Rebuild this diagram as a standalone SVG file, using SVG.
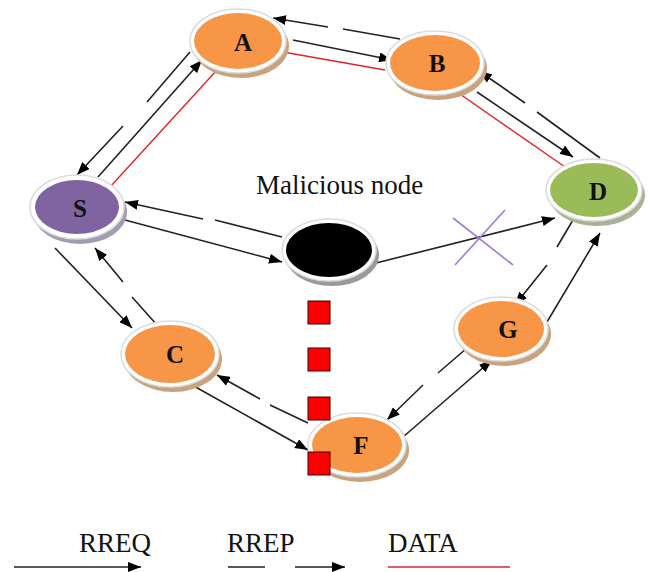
<svg xmlns="http://www.w3.org/2000/svg" width="648" height="572" viewBox="0 0 648 572">
  <style>
    .ring { fill: #ffffff; stroke: #dcdcdc; stroke-width: 1.5; }
    .orange { fill: #F79646; }
    .purple { fill: #8064A2; }
    .green { fill: #9BBB59; }
    .black { fill: #000000; }
    .shadow-o { fill: #C9A27E; }
    .shadow-p { fill: #A59BB0; }
    .shadow-g { fill: #A9B394; }
    .shadow-k { fill: #9a9a9a; }
    .lbl { font-family: "Liberation Serif", "Times New Roman", serif; font-size: 25px; font-weight: bold; fill: #111111; text-anchor: middle; }
    .txt { font-family: "Liberation Serif", "Times New Roman", serif; font-size: 27px; fill: #111111; }
    .rreq, .rrep { fill: none; stroke: #222222; stroke-width: 1.6; marker-end: url(#arr); }
    .data { fill: none; stroke: #E0242A; stroke-width: 1.4; }
    .sq { fill: #FF0000; stroke: #3a0000; stroke-width: 1; }
    .cross { stroke: #A07CD0; stroke-width: 1.6; }
  </style>
  <defs>
    <marker id="arr" viewBox="0 0 13 10" refX="13" refY="5" markerWidth="13" markerHeight="10" markerUnits="userSpaceOnUse" orient="auto">
      <path d="M0,0 L13,5 L0,10 z" fill="#000000"/>
    </marker>
  </defs>

  <!-- links: solid arrows = RREQ, broken arrows = RREP, red lines = DATA -->
  <g id="connectors">
    <!-- A / B -->
    <path class="rrep" d="M400,39 L343,29 M328,27 L273,18"/>
    <path class="rreq" d="M293,40 L392,60"/>
    <line class="data" x1="283" y1="52" x2="385" y2="70"/>
    <!-- S / A -->
    <path class="rrep" d="M190,52 L147,102 M123,126 L77,175"/>
    <path class="rreq" d="M98,177 L202,60"/>
    <line class="data" x1="110" y1="187" x2="217" y2="70"/>
    <!-- B / D -->
    <path class="rrep" d="M600,158 L537,112 M525,103 L479,71"/>
    <path class="rreq" d="M477,92 L573,157"/>
    <line class="data" x1="457" y1="92" x2="565" y2="167"/>
    <!-- S / malicious node -->
    <path class="rrep" d="M282,237 L215,220 M203,219 L125,202"/>
    <path class="rreq" d="M125,220 L282,262"/>
    <!-- malicious node / D, blocked -->
    <path class="rreq" d="M372,264 L555,218"/>
    <line class="cross" x1="453" y1="218" x2="513" y2="265"/>
    <line class="cross" x1="505" y1="210" x2="455" y2="265"/>
    <!-- D / G -->
    <path class="rrep" d="M573,220 L557,247 M547,265 L515,305"/>
    <path class="rreq" d="M547,322 L600,233"/>
    <!-- G / F -->
    <path class="rrep" d="M467,348 L438,373 M423,385 L387,420"/>
    <path class="rreq" d="M403,437 L492,360"/>
    <!-- F / C -->
    <path class="rrep" d="M308,423 L270,405 M260,399 L217,375"/>
    <path class="rreq" d="M192,385 L308,450"/>
    <!-- S / C -->
    <path class="rreq" d="M55,248 L132,328"/>
    <path class="rrep" d="M157,325 L132,297 M123,282 L95,248"/>
  </g>

  <g id="node-A">
    <ellipse class="shadow-o" cx="241" cy="46" rx="48" ry="32"/>
    <ellipse class="ring" cx="238" cy="41" rx="48" ry="32"/>
    <ellipse class="orange" cx="238" cy="41" rx="44" ry="28"/>
    <text class="lbl" x="243" y="51">A</text>
  </g>
  <g id="node-B">
    <ellipse class="shadow-o" cx="438" cy="68" rx="49" ry="32"/>
    <ellipse class="ring" cx="435" cy="63" rx="49" ry="32"/>
    <ellipse class="orange" cx="435" cy="63" rx="45" ry="28"/>
    <text class="lbl" x="437" y="72">B</text>
  </g>
  <g id="node-S">
    <ellipse class="shadow-p" cx="80" cy="212" rx="47" ry="32"/>
    <ellipse class="ring" cx="77" cy="207" rx="47" ry="32"/>
    <ellipse class="purple" cx="77" cy="207" rx="42" ry="27"/>
    <text class="lbl" x="80" y="217" fill="#1a1a3a">S</text>
  </g>
  <g id="node-M">
    <ellipse class="shadow-k" cx="332" cy="255" rx="47" ry="31"/>
    <ellipse class="ring" cx="329" cy="250" rx="47" ry="31"/>
    <ellipse class="black" cx="329" cy="250" rx="43" ry="27"/>
    <text class="txt" x="256" y="194">Malicious node</text>
  </g>
  <g id="node-D">
    <ellipse class="shadow-g" cx="597" cy="195" rx="48" ry="31"/>
    <ellipse class="ring" cx="594" cy="190" rx="48" ry="31"/>
    <ellipse class="green" cx="594" cy="190" rx="44" ry="27"/>
    <text class="lbl" x="598" y="200">D</text>
  </g>
  <g id="node-G">
    <ellipse class="shadow-o" cx="504" cy="334" rx="47" ry="32"/>
    <ellipse class="ring" cx="501" cy="329" rx="47" ry="32"/>
    <ellipse class="orange" cx="501" cy="329" rx="43" ry="28"/>
    <text class="lbl" x="508" y="338">G</text>
  </g>
  <g id="node-C">
    <ellipse class="shadow-o" cx="173" cy="359" rx="49" ry="33"/>
    <ellipse class="ring" cx="170" cy="354" rx="49" ry="33"/>
    <ellipse class="orange" cx="170" cy="354" rx="45" ry="29"/>
    <text class="lbl" x="175" y="363">C</text>
  </g>
  <g id="node-F">
    <ellipse class="shadow-o" cx="360" cy="450" rx="49" ry="32"/>
    <ellipse class="ring" cx="357" cy="445" rx="49" ry="32"/>
    <ellipse class="orange" cx="357" cy="445" rx="45" ry="28"/>
    <text class="lbl" x="361" y="454">F</text>
  </g>

  <!-- packets dropped by the malicious node -->
  <g id="drops">
    <rect class="sq" x="308" y="301" width="22" height="23"/>
    <rect class="sq" x="308" y="348" width="22" height="23"/>
    <rect class="sq" x="308" y="397" width="22" height="23"/>
    <rect class="sq" x="308" y="452" width="22" height="23"/>
  </g>

  <g id="legend">
    <text class="txt" x="79" y="552">RREQ</text>
    <path class="rreq" d="M14,567 L141,567"/>
    <text class="txt" x="227" y="552">RREP</text>
    <path class="rrep" d="M228,567 L265,567 M295,567 L345,567"/>
    <text class="txt" x="388" y="552">DATA</text>
    <line class="data" x1="388" y1="567" x2="510" y2="567"/>
  </g>
</svg>
